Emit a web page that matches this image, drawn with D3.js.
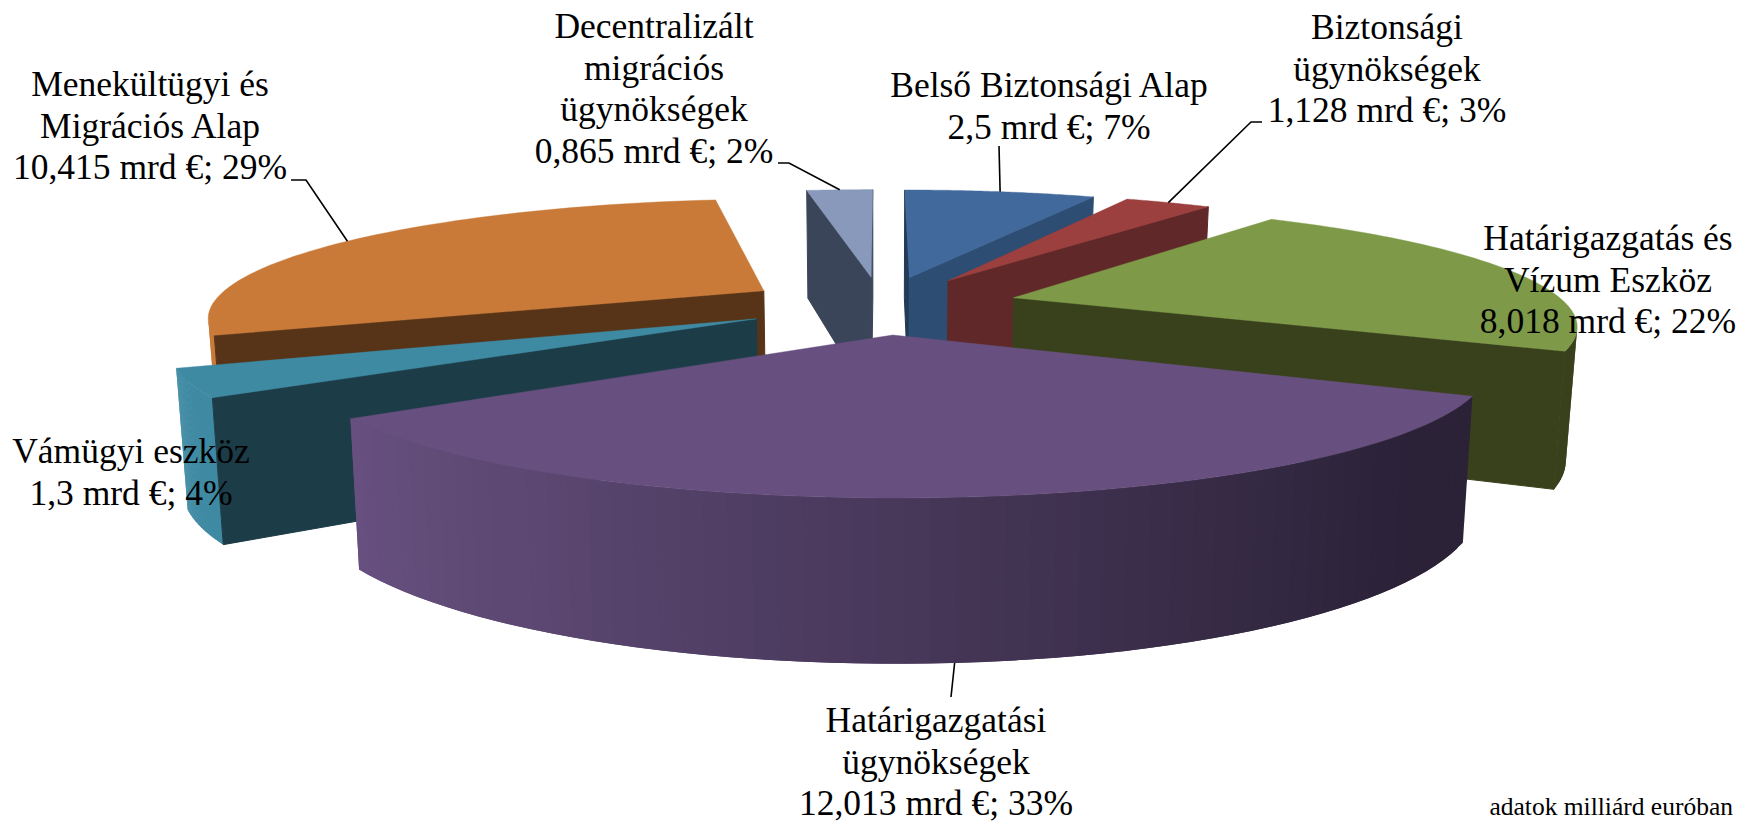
<!DOCTYPE html>
<html><head><meta charset="utf-8">
<script src="https://cdn.jsdelivr.net/npm/d3@7"></script>
<style>html,body{margin:0;padding:0;background:#fff;overflow:hidden}svg{display:block}
text{font-family:"Liberation Serif",serif;fill:#000}</style></head>
<body><svg id="c" width="1740" height="822"></svg>
<script>
// data
const categories = ["Belső Biztonsági Alap","Biztonsági ügynökségek","Határigazgatás és Vízum Eszköz","Határigazgatási ügynökségek","Vámügyi eszköz","Menekültügyi és Migrációs Alap","Decentralizált migrációs ügynökségek"];
const values = [2.5,1.128,8.018,12.013,1.3,10.415,0.865];
const nameLines = [["Belső Biztonsági Alap"],["Biztonsági","ügynökségek"],["Határigazgatás és","Vízum Eszköz"],["Határigazgatási","ügynökségek"],["Vámügyi eszköz"],["Menekültügyi és","Migrációs Alap"],["Decentralizált","migrációs","ügynökségek"]];
const unitText = "mrd €";
const noteText = "adatok milliárd euróban";
// styles
const topColors  = ["#41699c","#9b403e","#7e9a48","#67507f","#3f8aa3","#c97a38","#8899bc"];
const sideColors = ["#2d4d72","#602828","#39411c","#2b2238","#1c3c48","#573417","#3a4559"];
// label layout: centre x, first baseline, leader points from the label towards the slice
const labelX =    [1049,1387,1608,936,131,150,654];
const labelY =    [97,39,250,732,463,96,38];
const leaderPts = [[[999,146]],[[1262,122],[1251,122]],[],[[951,697]],[],[[291,180],[306,180]],[[778,163],[789,163]]];
const fontSize = 35.5, lineGap = 41.6;
// 3D projection parameters
const explode = 0.25, persp = 0.203;
const scaleXTop = d3.scaleLinear().domain([-1,1]).range([881-553,881+553]);
const scaleXBot = d3.scaleLinear().domain([-1,1]).range([881-544,881+544]);
const scaleYTop = d3.scaleLinear().domain([-1,1]).range([304.7+115.5,304.7-115.5]);
const scaleYBot = d3.scaleLinear().domain([-1,1]).range([434+137.3,434-137.3]);

function project(X,Y,bottom){
  const w = 1+persp*Y;
  return bottom ? [scaleXBot(X/w),scaleYBot(Y/w)] : [scaleXTop(X/w),scaleYTop(Y/w)];
}
const svg = d3.select("#c");
const total = d3.sum(values);
const arcs = d3.pie().sort(null).value(d=>d)(values);
const line = d3.line();
const slices = arcs.map((a,i)=>{
  const mid=(a.startAngle+a.endAngle)/2;
  return {i,a0:a.startAngle,a1:a.endAngle,mid,ox:explode*Math.sin(mid),oy:explode*Math.cos(mid)};
});
const rimPt=(s,t,bottom)=>project(s.ox+Math.sin(t),s.oy+Math.cos(t),bottom);
const apexPt=(s,bottom)=>project(s.ox,s.oy,bottom);
const area=p=>d3.polygonArea(p);
const shade=d3.scaleLinear().domain([-0.82,0.75]).range([0,1]).clamp(true);

slices.slice().sort((p,q)=>d3.descending(p.oy,q.oy)).forEach(s=>{
  const g=svg.append("g");
  const top=topColors[s.i], side=sideColors[s.i];
  const ts=d3.range(0,61).map(k=>s.a0+(s.a1-s.a0)*k/60);
  // outer wall: each strip reaches into the next one, so no seams show
  const mix=d3.interpolateRgb(top,side);
  d3.pairs(ts).forEach(([t0,t1],k)=>{
    const q=[rimPt(s,t0,false),rimPt(s,t1,false),rimPt(s,t1,true),rimPt(s,t0,true)];
    if(area(q)>0){
      const t2=ts[Math.min(k+2,60)];
      const q2=[rimPt(s,t0,false),rimPt(s,t2,false),rimPt(s,t2,true),rimPt(s,t0,true)];
      const c=mix(shade(Math.sin((t0+t1)/2)));
      g.append("path").attr("d",line(q2)+"Z").attr("fill",c);
    }
  });
  // radial faces
  const f0=[apexPt(s,false),rimPt(s,s.a0,false),rimPt(s,s.a0,true),apexPt(s,true)];
  const f1=[apexPt(s,false),apexPt(s,true),rimPt(s,s.a1,true),rimPt(s,s.a1,false)];
  [f0,f1].forEach((f,n)=>{
    if(area(f)>0){ // visible faces wind one way in screen space
      const col = (n===0 && s.mid<0.5) ? d3.color(side).darker(0.8) : side;
      g.append("path").attr("d",line(f)+"Z").attr("fill",col).attr("stroke",col).attr("stroke-width",1);
    }
  });
  // top face
  const tp=[apexPt(s,false),...ts.map(t=>rimPt(s,t,false))];
  g.append("path").attr("d",line(tp)+"Z").attr("fill",top).attr("stroke",top).attr("stroke-width",0.4);
});

// leaders
slices.forEach(s=>{
  const pts=leaderPts[s.i];
  if(!pts.length) return;
  const front=Math.cos(s.mid)<-0.9;
  const anchor=rimPt(s,s.mid,front);
  svg.append("path").attr("d",line([...pts,anchor])).attr("fill","none").attr("stroke","#000").attr("stroke-width",1.6);
});

// labels
slices.forEach(s=>{
  const rows=[...nameLines[s.i],`${String(values[s.i]).replace(".",",")} ${unitText}; ${Math.round(values[s.i]/total*100)}%`];
  const t=svg.append("text").attr("text-anchor","middle").attr("font-size",fontSize);
  rows.forEach((r,k)=>t.append("tspan").attr("x",labelX[s.i]).attr("y",labelY[s.i]+k*lineGap).text(r));
});
svg.append("text").attr("x",1733).attr("y",815).attr("text-anchor","end").attr("font-size",25.5).text(noteText);
</script></body></html>
